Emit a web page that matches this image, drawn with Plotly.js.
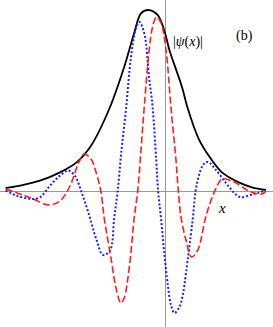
<!DOCTYPE html>
<html><head><meta charset="utf-8">
<script src="https://cdn.plot.ly/plotly-3.0.1.min.js"></script>
<style>html,body{margin:0;padding:0;background:#fff;}</style>
</head><body><div id="chart" style="width:273px;height:327px;"></div>
<script>
// |psi(x)| envelope
const envX = [-7.97,-7.25,-6.25,-5.25,-4.42,-3.70,-2.79,-2.04,-1.54,-1.20,-0.84,-0.37,0.00,0.22,0.85,1.10,1.69,2.19,2.85,3.69,4.35,5.05];
const envY = [0.022,0.035,0.062,0.108,0.163,0.254,0.456,0.687,0.874,0.982,1.000,0.973,0.874,0.780,0.577,0.473,0.291,0.199,0.108,0.053,0.026,0.011];
// red dashed component
const reX = [-7.97,-7.25,-6.59,-5.84,-5.25,-4.75,-4.34,-4.05,-3.70,-3.45,-3.20,-3.04,-2.70,-2.45,-2.20,-2.04,-1.79,-1.54,-1.37,-1.20,-1.04,-0.79,-0.62,-0.43,-0.20,0.05,0.30,0.55,0.67,0.80,1.05,1.33,1.64,2.05,2.53,2.85,3.40,4.10,4.55,4.85,5.05];
const reY = [0.016,-0.011,-0.038,-0.071,-0.049,0.033,0.154,0.209,0.181,0.110,0.000,-0.143,-0.363,-0.527,-0.610,-0.582,-0.418,-0.143,0.000,0.231,0.462,0.780,0.907,0.962,0.929,0.780,0.462,0.176,0.000,-0.137,-0.264,-0.357,-0.319,-0.132,0.016,0.071,0.058,0.011,-0.008,-0.011,0.005];
// blue dotted component
const imX = [-7.97,-7.42,-6.70,-6.25,-5.75,-5.25,-4.84,-4.50,-4.17,-3.84,-3.42,-3.10,-2.75,-2.54,-2.37,-2.20,-1.95,-1.70,-1.45,-1.28,-1.04,-0.79,-0.62,-0.44,-0.34,-0.20,-0.05,0.14,0.30,0.47,0.72,0.89,1.05,1.37,1.60,1.94,2.15,2.55,3.05,3.55,3.80,4.35,5.03];
const imY = [0.008,-0.020,-0.038,-0.029,0.035,0.090,0.118,0.088,-0.002,-0.110,-0.264,-0.346,-0.321,-0.143,-0.002,0.203,0.456,0.742,0.901,0.934,0.874,0.626,0.467,0.176,0.000,-0.143,-0.319,-0.511,-0.621,-0.665,-0.632,-0.566,-0.445,-0.165,0.049,0.154,0.165,0.121,0.049,-0.015,-0.029,-0.014,0.008];

const traces = [
  {x: envX, y: envY, mode: 'lines', line: {color: '#000000', width: 1.8, shape: 'spline', smoothing: 1}, hoverinfo: 'skip'},
  {x: imX, y: imY, mode: 'lines', line: {color: 'rgb(30,30,255)', width: 2, dash: '2px,2px', shape: 'spline', smoothing: 1}, hoverinfo: 'skip'},
  {x: reX, y: reY, mode: 'lines', line: {color: 'rgb(255,30,30)', width: 1.6, dash: '7px,3px', shape: 'spline', smoothing: 1}, hoverinfo: 'skip'}
];
const layout = {
  width: 273, height: 327,
  margin: {l: 0, r: 0, t: 0, b: 0},
  paper_bgcolor: '#ffffff', plot_bgcolor: '#ffffff',
  showlegend: false,
  xaxis: {range: [-8.25, 5.4], showgrid: false, showticklabels: false, ticks: '', zeroline: true, zerolinecolor: '#999999', zerolinewidth: 1, showline: false, fixedrange: true},
  yaxis: {range: [-0.7418, 1.0549], showgrid: false, showticklabels: false, ticks: '', zeroline: true, zerolinecolor: '#999999', zerolinewidth: 1, showline: false, fixedrange: true},
  font: {family: '"Liberation Serif", "DejaVu Serif", serif', color: '#000000', size: 14},
  annotations: [
    {xref: 'paper', yref: 'paper', x: 0.689, y: 0.872, text: '|<i>ψ</i>(<i>x</i>)|', showarrow: false, xanchor: 'center', yanchor: 'middle', font: {size: 14}},
    {xref: 'paper', yref: 'paper', x: 0.894, y: 0.890, text: '(b)', showarrow: false, xanchor: 'center', yanchor: 'middle', font: {size: 14}},
    {xref: 'paper', yref: 'paper', x: 0.815, y: 0.365, text: '<i>x</i>', showarrow: false, xanchor: 'center', yanchor: 'middle', font: {size: 15}}
  ]
};
Plotly.newPlot('chart', traces, layout, {displayModeBar: false, staticPlot: true});
</script>
</body></html>
